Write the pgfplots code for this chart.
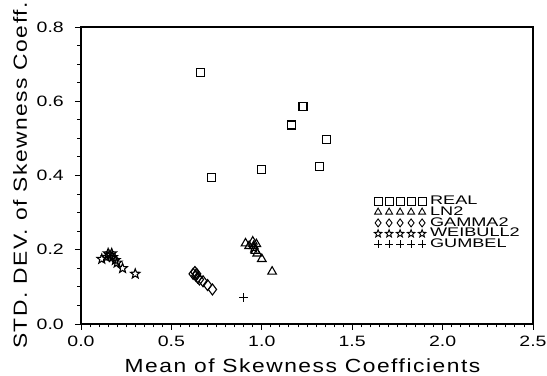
\documentclass[border=0pt]{standalone}
\usepackage{fontspec}
\setmainfont{Liberation Sans}
\newfontfamily\tickfont[FakeStretch=1.3]{Liberation Sans}
\newfontfamily\labelfont[FakeStretch=1.2,LetterSpace=8]{Liberation Sans}
\newfontfamily\legfont[FakeStretch=1.45]{Liberation Sans}
\usepackage{pgfplots}
\pgfplotsset{compat=1.18}
\usetikzlibrary{plotmarks}
\pgfdeclareplotmark{ostar}{%
  \pgfpathmoveto{\pgfpointpolar{90}{\pgfplotmarksize}}%
  \pgfpathlineto{\pgfpointpolar{126}{0.42\pgfplotmarksize}}%
  \pgfpathlineto{\pgfpointpolar{162}{\pgfplotmarksize}}%
  \pgfpathlineto{\pgfpointpolar{198}{0.42\pgfplotmarksize}}%
  \pgfpathlineto{\pgfpointpolar{234}{\pgfplotmarksize}}%
  \pgfpathlineto{\pgfpointpolar{270}{0.42\pgfplotmarksize}}%
  \pgfpathlineto{\pgfpointpolar{306}{\pgfplotmarksize}}%
  \pgfpathlineto{\pgfpointpolar{342}{0.42\pgfplotmarksize}}%
  \pgfpathlineto{\pgfpointpolar{18}{\pgfplotmarksize}}%
  \pgfpathlineto{\pgfpointpolar{54}{0.42\pgfplotmarksize}}%
  \pgfpathclose
  \pgfusepathqstroke}
\begin{document}
\begin{tikzpicture}
\begin{axis}[
  scale only axis, width=452pt, height=297pt,
  xmin=0, xmax=2.5, ymin=0, ymax=0.8,
  xtick={0,0.5,1,1.5,2,2.5}, ytick={0,0.2,0.4,0.6,0.8},
  minor x tick num=9, minor y tick num=3,
  xtick pos=left, ytick pos=left,
  tick align=outside,
  major tick length=6pt, minor tick length=3.5pt,
  axis line style={line width=1.2pt},
  every tick/.style={black, line width=0.9pt},
  /pgf/number format/assume math mode=true,
  /pgf/number format/.cd, fixed, fixed zerofill, precision=1, /pgfplots/.cd,
  tick label style={font=\tickfont\fontsize{15}{15}\selectfont},
  xticklabel style={inner sep=0pt, anchor=north, yshift=-6pt},
  yticklabel style={inner sep=0pt, anchor=east, xshift=-11pt},
  xlabel={Mean of Skewness Coefficients},
  ylabel={STD. DEV. of Skewness Coeff.},
  label style={font=\labelfont\fontsize{19}{19}\selectfont, inner sep=0pt},
  xlabel style={at={(axis description cs:0.49,-0.162)}, anchor=base},
  ylabel style={at={(axis description cs:-0.12,0.5)}, anchor=base, rotate=0},
  legend style={at={(rel axis cs:0.648,0.432)}, anchor=north west, draw=none, fill=none,
    inner sep=0pt, font=\legfont\fontsize{12.5}{12.5}\selectfont,
    nodes={inner sep=0pt, text height=8.6pt, text depth=2.2pt, anchor=west},
    /tikz/column sep=4pt, /tikz/row sep=0pt},
  legend cell align=left,
  legend image code/.code={\draw[line width=0.9pt, mark size=4pt] plot coordinates {(0pt,0pt)(11pt,0pt)(22pt,0pt)(33pt,0pt)(44pt,0pt)};},
]
\addplot[only marks, mark=square, mark size=4pt, line width=1.1pt, black] coordinates {
(0.663,0.677) (0.723,0.395) (0.997,0.417) (1.162,0.536) (1.228,0.585) (1.36,0.497) (1.32,0.424)};
\addlegendentry{REAL}
\addplot[only marks, mark=triangle, mark size=5pt, line width=1.1pt, black] coordinates {
(0.91,0.217) (0.93,0.21) (0.95,0.222) (0.955,0.21) (0.965,0.197) (0.97,0.215) (0.975,0.19) (1.00,0.175) (1.057,0.141)};
\addlegendentry{LN2}
\addplot[only marks, mark=diamond, mark size=5.5pt, line width=1.1pt, black] coordinates {
(0.62,0.135) (0.63,0.14) (0.635,0.13) (0.64,0.135) (0.645,0.125) (0.655,0.12) (0.675,0.115) (0.70,0.105) (0.727,0.093)};
\addlegendentry{GAMMA2}
\addplot[only marks, mark=ostar, mark size=5pt, line width=1.1pt, black] coordinates {
(0.115,0.175) (0.14,0.18) (0.15,0.19) (0.16,0.185) (0.17,0.19) (0.175,0.18) (0.19,0.172) (0.20,0.165) (0.23,0.15) (0.30,0.135) (0.955,0.205)};
\addlegendentry{WEIBULL2}
\addplot[only marks, mark=+, mark size=4.5pt, line width=1.1pt, black] coordinates {
(0.90,0.072)};
\addlegendentry{GUMBEL}
\coordinate (ll) at (rel axis cs:0,0);
\coordinate (ur) at (rel axis cs:1,1);
\end{axis}
\pgfresetboundingbox
\path ([shift={(-81pt,-52pt)}]ll) rectangle ([shift={(14pt,27pt)}]ur);
\end{tikzpicture}
\end{document}
